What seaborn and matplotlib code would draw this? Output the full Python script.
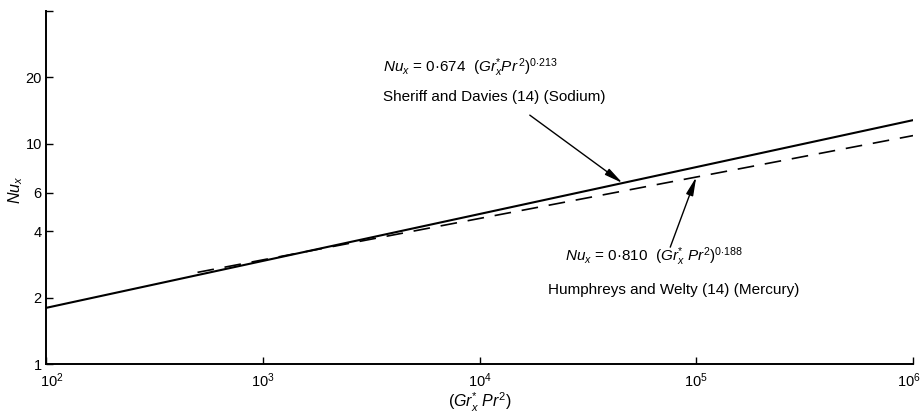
import numpy as np
import pandas as pd
import matplotlib
matplotlib.use("Agg")
import matplotlib.pyplot as plt
import matplotlib.transforms as mtransforms
import seaborn as sns

# Correlations Nu_x = C (Gr_x* Pr^2)^n for liquid metals
series = ["Sheriff and Davies (Sodium)", "Humphreys and Welty (Mercury)"]
coef = [0.674, 0.810]
expo = [0.213, 0.188]
x_start = [1e2, 5e2]
x_end = [1e6, 1e6]

y_ticks = [1, 2, 4, 6, 10, 20]
x_ticks = [1e2, 1e3, 1e4, 1e5, 1e6]

rows = []
for name, c, n, a, b in zip(series, coef, expo, x_start, x_end):
    for x in (a, b):
        rows.append({"series": name, "X": x, "Nu": c * x ** n})
df = pd.DataFrame(rows)

sns.set_style("ticks")
FONT = "Liberation Sans"
plt.rcParams["font.family"] = [FONT, "DejaVu Sans"]
plt.rcParams["mathtext.fontset"] = "custom"
plt.rcParams["mathtext.rm"] = FONT
plt.rcParams["mathtext.it"] = FONT + ":italic"
plt.rcParams["mathtext.bf"] = FONT + ":bold"
plt.rcParams["text.color"] = "black"
plt.rcParams["axes.labelcolor"] = "black"

fig = plt.figure(figsize=(9.24, 4.19), dpi=100)
ax = fig.add_axes([46 / 924, 1 - 364 / 419, 867 / 924, 353 / 419])

sns.lineplot(data=df, x="X", y="Nu", hue="series", style="series",
             palette=["black", "black"], dashes=[(None, None), (10, 6.5)],
             linewidth=1.5, legend=False, ax=ax)
ax.lines[1].set_linewidth(1.2)

ax.set_xscale("log")
ax.set_yscale("log")
ax.set_xlim(1e2, 1e6)
ax.set_ylim(1, 40)

ax.set_xticks(x_ticks)
ax.xaxis.set_minor_locator(matplotlib.ticker.NullLocator())
ax.yaxis.set_minor_locator(matplotlib.ticker.NullLocator())
ax.set_yticks(y_ticks + [40])
ax.set_yticklabels([str(v) for v in y_ticks] + [""])

ax.tick_params(direction="in", length=5, width=1, colors="black",
               labelsize=10.5, pad=3)
ax.tick_params(axis="x", pad=5)
for side in ("top", "right"):
    ax.spines[side].set_visible(False)
for side in ("left", "bottom"):
    ax.spines[side].set_linewidth(1.4)
    ax.spines[side].set_color("black")

# nudge the end labels of the x axis inward
fig.canvas.draw()
xlabels = ax.get_xticklabels()
xlabels[0].set_transform(xlabels[0].get_transform() +
                         mtransforms.ScaledTranslation(6 / 100, 0, fig.dpi_scale_trans))
xlabels[-1].set_transform(xlabels[-1].get_transform() +
                          mtransforms.ScaledTranslation(-4 / 100, 0, fig.dpi_scale_trans))

ax.set_ylabel(r"$Nu_x$", fontsize=11.5)
ax.yaxis.set_label_coords(-0.024, 0.493)
ax.set_xlabel(r"$(Gr_x^{*}\ Pr^2)$", fontsize=11.5)
ax.xaxis.set_label_coords(0.5006, -0.077)

txt = 11
ax.text(0.389, 0.838, r"$Nu_x$ = 0·674  ($Gr_x^{*}Pr^{\,2}$)$^{0{\cdot}213}$",
        transform=ax.transAxes, fontsize=txt, va="center", ha="left")
ax.text(0.389, 0.756, "Sheriff and Davies (14) (Sodium)",
        transform=ax.transAxes, fontsize=txt, va="center", ha="left")
ax.text(0.599, 0.303, r"$Nu_x$ = 0·810  ($Gr_x^{*}\ Pr^{2}$)$^{0{\cdot}188}$",
        transform=ax.transAxes, fontsize=txt, va="center", ha="left")
ax.text(0.579, 0.210, "Humphreys and Welty (14) (Mercury)",
        transform=ax.transAxes, fontsize=txt, va="center", ha="left")

arrow = dict(arrowstyle="-|>,head_length=1.1,head_width=0.22", color="black",
             lw=1.0, shrinkA=0, shrinkB=0)
x1 = 4.57e4
ax.annotate("", xy=(x1, coef[0] * x1 ** expo[0]), xycoords="data",
            xytext=(0.558, 0.705), textcoords="axes fraction", arrowprops=arrow)
x2 = 1e5
ax.annotate("", xy=(x2, coef[1] * x2 ** expo[1]), xycoords="data",
            xytext=(0.720, 0.331), textcoords="axes fraction", arrowprops=arrow)

fig.savefig("out.png", dpi=100)
